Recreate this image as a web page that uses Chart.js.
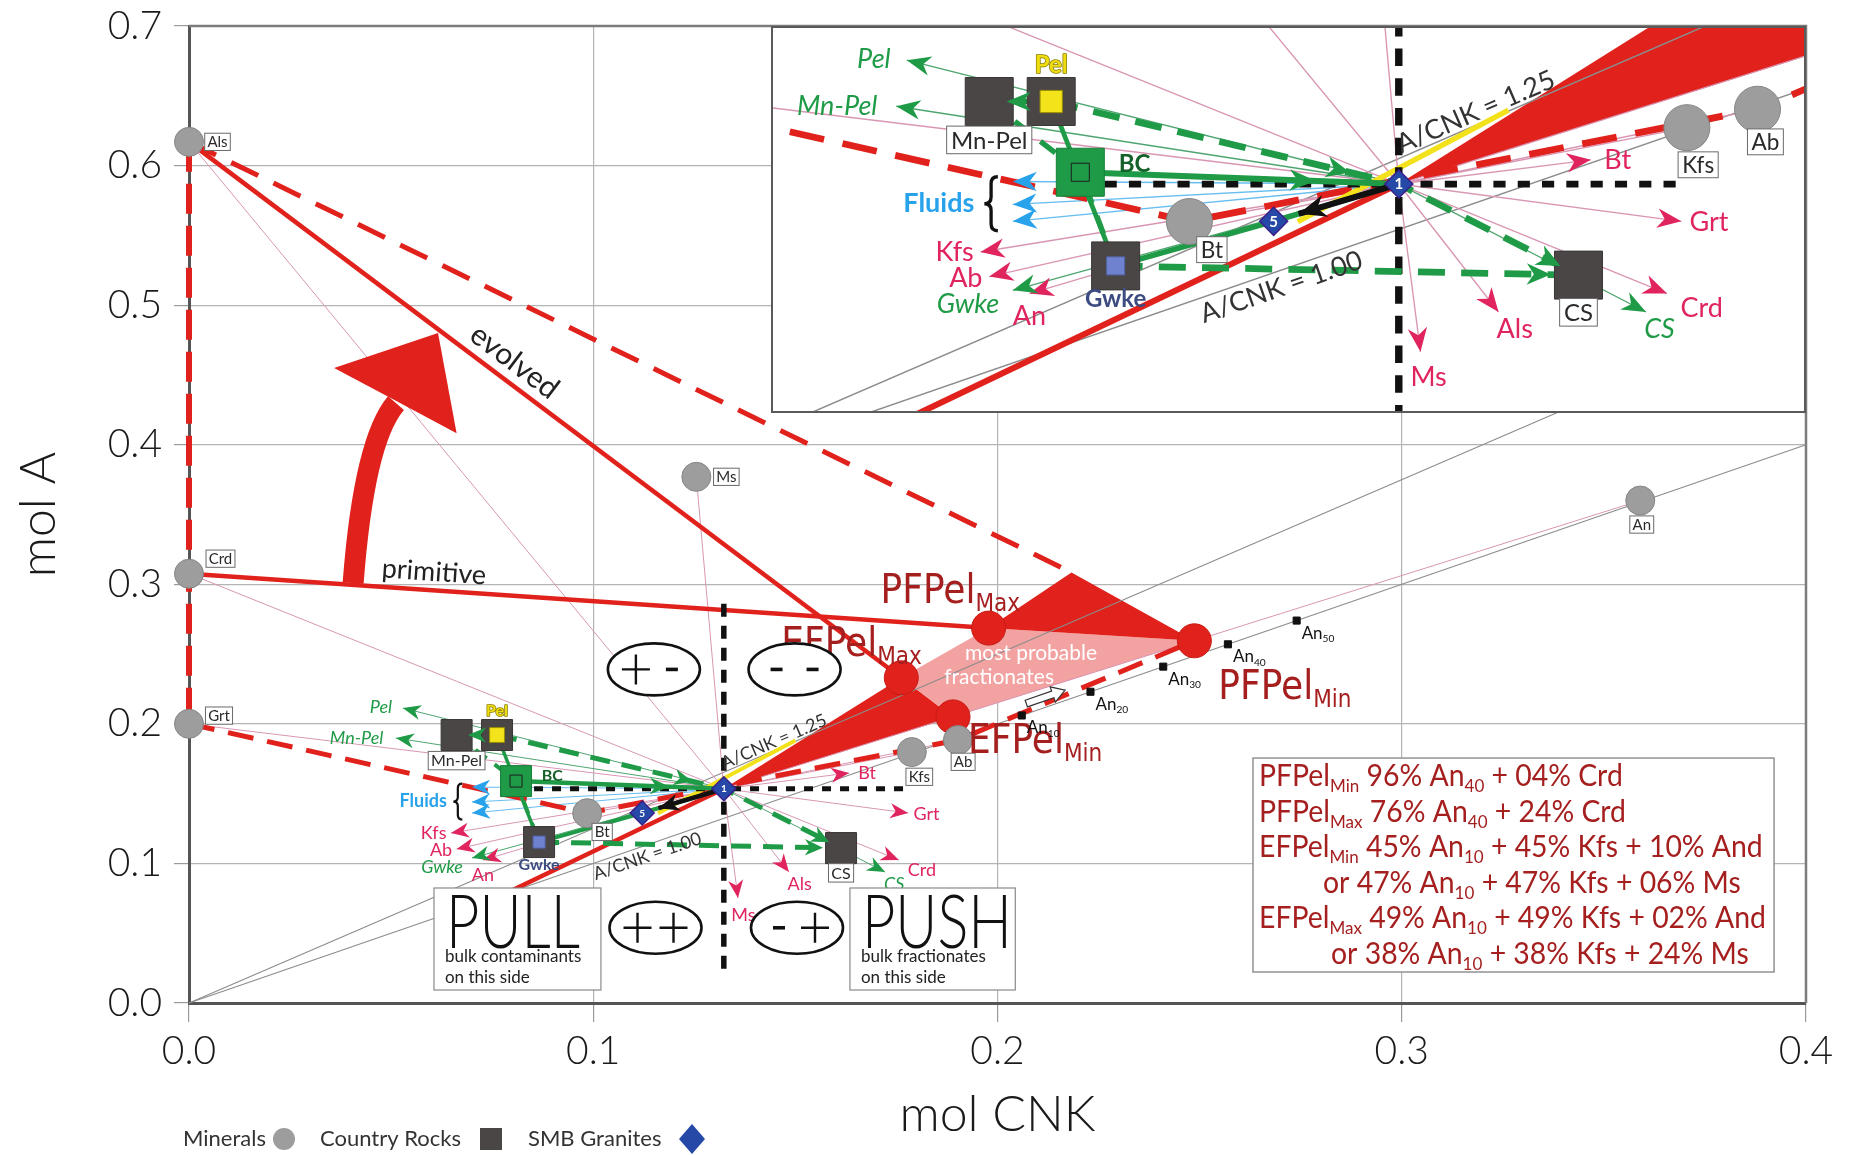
<!DOCTYPE html>
<html><head><meta charset="utf-8">
<script src="https://cdn.jsdelivr.net/npm/chart.js@4.4.1/dist/chart.umd.min.js"></script>
<style>
html,body{margin:0;padding:0;background:#fff;}
#wrap{position:relative;width:1854px;height:1155px;overflow:hidden;background:#fff;}
#mainC{position:absolute;left:0;top:0;}
#insetBox{position:absolute;left:771px;top:26px;width:1035px;height:387px;box-sizing:border-box;border:2px solid #5a5a5a;background:#fff;}
#insetC{display:block;}
</style></head><body>
<div id="wrap"><canvas id="mainC" width="1854" height="1155"></canvas>
<div id="insetBox"><canvas id="insetC" width="1031" height="383"></canvas></div></div>
<script>
// ================= DATA =================
const xTitle = 'mol CNK', yTitle = 'mol A';
const xTicks = [0.0, 0.1, 0.2, 0.3, 0.4];
const yTicks = [0.0, 0.1, 0.2, 0.3, 0.4, 0.5, 0.6, 0.7];

const mineralNames = ['Als', 'Crd', 'Grt', 'Ms', 'An', 'Kfs', 'Ab', 'Bt'];
const mineralX = [0.000, 0.000, 0.000, 0.1255, 0.3590, 0.1788, 0.1902, 0.0985];
const mineralY = [0.617, 0.3076, 0.200, 0.3770, 0.3600, 0.1798, 0.1884, 0.1360];

const rockNames = ['Mn-Pel', 'Pel', 'BC', 'Gwke', 'CS'];
const rockX = [0.0662, 0.0762, 0.0809, 0.0866, 0.1613];
const rockY = [0.1920, 0.1920, 0.1590, 0.1153, 0.1110];

const graniteNames = ['1', '5'];
const graniteX = [0.1323, 0.1121];
const graniteY = [0.1535, 0.1361];

const fracNames = ['EFPel', 'PFPel', 'PFPel', 'EFPel'];
const fracSubs = ['Max', 'Max', 'Min', 'Min'];
const fracX = [0.1762, 0.1978, 0.2487, 0.1890];
const fracY = [0.2330, 0.2686, 0.2595, 0.2050];
const pfApexX = [0.2183];
const pfApexY = [0.3085];

const plagSubs = ['10', '20', '30', '40', '50'];
const plagX = [0.206, 0.223, 0.241, 0.257, 0.274];
const plagY = [0.206, 0.223, 0.241, 0.257, 0.274];

const vecMinNames = ['Kfs', 'Ab', 'An', 'Bt', 'Grt', 'Crd', 'Als', 'Ms'];
const vecMinX = [0.0648, 0.0662, 0.0727, 0.1633, 0.1779, 0.1756, 0.1484, 0.1358];
const vecMinY = [0.1218, 0.1103, 0.1024, 0.1648, 0.1361, 0.1024, 0.0938, 0.0752];

const vecRockNames = ['Pel', 'Mn-Pel', 'Gwke', 'CS'];
const vecRockX = [0.0529, 0.0512, 0.0700, 0.1722];
const vecRockY = [0.2113, 0.1898, 0.1039, 0.0938];

const fluidLabel = 'Fluids';
const fluidX = [0.0700, 0.0700, 0.0700];
const fluidY = [0.1547, 0.1440, 0.1361];

const acnkRatios = [1.00, 1.25];
const acnkLabels = ['A/CNK = 1.00', 'A/CNK = 1.25'];

const quadSigns = ['+-', '--', '++', '-+'];

const boxLines = [
  [['PFPel'], ['Min', 1], [' 96% An'], ['40', 1], [' + 04% Crd']],
  [['PFPel'], ['Max', 1], [' 76% An'], ['40', 1], [' + 24% Crd']],
  [['EFPel'], ['Min', 1], [' 45% An'], ['10', 1], [' + 45% Kfs + 10% And']],
  [['or 47% An'], ['10', 1], [' + 47% Kfs + 06% Ms']],
  [['EFPel'], ['Max', 1], [' 49% An'], ['10', 1], [' + 49% Kfs + 02% And']],
  [['or 38% An'], ['10', 1], [' + 38% Kfs + 24% Ms']]
];

// ================= LAYOUT / STYLE (annotation placement) =================
const FONT = "Lato, 'Open Sans', 'Liberation Sans', sans-serif";
const NARROW = "'Liberation Sans Narrow', 'DejaVu Sans Condensed', 'Liberation Sans', sans-serif";
const RED = '#e1211b', PINK = '#f3a2a2', DRED = '#a51f1f', GREEN = '#1f9b47', MAG = '#e0245e', BLUE = '#29a2ec';
const INSET_RANGE = {xmin: 0.0313, xmax: 0.1977, ymin: 0.0476, ymax: 0.2263};
const layout = {
  quadPos: [[0.1150, 0.239], [0.1498, 0.239], [0.1154, 0.0539], [0.1504, 0.0539]],
  crossV: [0.286, 0.020], crossH: [0.0809, 0.1785],
  redStartMain: [0.0650, 0.0600], redStartInset: [0.0450, 0.0330],
  arrowCurve: {base: [0.0406, 0.3009], mid: [0.0446, 0.3842], top: [0.0512, 0.4298], tip: [0.0616, 0.4800], l: [0.0359, 0.4549], r: [0.0662, 0.4083]},
  primitive: [0.0606, 0.3087], evolved: [0.0805, 0.4594],
  mostProb: [[0.2083, 0.2507], [0.2004, 0.2335]],
  hollow: [0.2118, 0.2192],
  pull: {x0: 0.0606, x1: 0.1019, y0: 0.0824, y1: 0.0093, big: 'PULL', small: ['bulk contaminants', 'on this side'], bw: 134},
  push: {x0: 0.1635, x1: 0.2044, y0: 0.0824, y1: 0.0093, big: 'PUSH', small: ['bulk fractionates', 'on this side'], bw: 150},
  textBox: {x0: 0.2632, x1: 0.3921, y0: 0.1755, y1: 0.0222},
  yellow: [[0.1160, 0.1360], [0.1500, 0.1880]],
  fluidBrace: [0.0665, 0.1443], fluidText: [0.0638, 0.1443],
  acnkAt: [0.1125, 0.1455]
};
const vecLabelPos = {
  Kfs: ['right', -0.25, 0], Ab: ['right', -0.25, 0.05], An: ['center', 0, 0.85], Bt: ['left', 0.5, 0],
  Grt: ['left', 0.3, 0.05], Crd: ['left', 0.5, 0.55], Als: ['center', 0.6, 0.65], Ms: ['center', 0.3, 0.95],
  Pel: ['right', -0.6, -0.05], 'Mn-Pel': ['right', -0.7, 0], Gwke: ['right', -0.5, 0.5], CS: ['center', 0.5, 0.65]
};
const minBoxPos = {Als: [1.9, 0], Crd: [2.1, -1.0], Grt: [2.0, -0.55], Ms: [2.0, 0], An: [0.1, 1.6], Kfs: [0.5, 1.65], Ab: [0.35, 1.45], Bt: [1.0, 1.25]};
const rockLabelPos = {
  'Mn-Pel': {dx: 0, dy: 1.6, box: true}, Pel: {dx: 0, dy: -1.5, color: '#eedc10', stroke: '#8a7d00', weight: 'bold'},
  BC: {dx: 1.6, dy: -0.35, color: '#16602a', weight: 'bold'}, Gwke: {dx: 0, dy: 1.4, color: '#3d4c80', weight: 'bold'},
  CS: {dx: 0, dy: 1.55, box: true}
};
const fracLabelOff = [[-120, -22], [-108, -25], [24, 58], [15, 36]];

// ================= HELPERS =================
const pt = (x, y) => ({x, y});
const M = n => pt(mineralX[mineralNames.indexOf(n)], mineralY[mineralNames.indexOf(n)]);
const R = n => pt(rockX[rockNames.indexOf(n)], rockY[rockNames.indexOf(n)]);
const G = i => pt(graniteX[i], graniteY[i]);
const F = i => pt(fracX[i], fracY[i]);
function P(chart, x, y) { return {x: chart.scales.x.getPixelForValue(x), y: chart.scales.y.getPixelForValue(y)}; }
const at = (a, b, t) => ({x: a.x + (b.x - a.x) * t, y: a.y + (b.y - a.y) * t});
function fnt(size, family, weight, style) { return `${style || 'normal'} ${weight || 'normal'} ${size}px ${family || FONT}`; }
function txt(ctx, s, x, y, o) {
  ctx.save();
  ctx.font = fnt(o.size, o.family, o.weight, o.style);
  ctx.fillStyle = o.color || '#222';
  ctx.textAlign = o.align || 'left';
  ctx.textBaseline = o.baseline || 'middle';
  ctx.translate(x, y);
  if (o.rot) ctx.rotate(o.rot);
  if (o.sx) ctx.scale(o.sx, 1);
  if (o.stroke) { ctx.lineWidth = o.strokeW || 2; ctx.strokeStyle = o.stroke; ctx.lineJoin = 'round'; ctx.strokeText(s, 0, 0); }
  ctx.fillText(s, 0, 0);
  ctx.restore();
}
function richMeasure(ctx, segs, size, family, weight) {
  let w = 0;
  segs.forEach(([t, sub]) => { ctx.font = fnt(sub ? size * 0.6 : size, family, weight); w += ctx.measureText(t).width; });
  return w;
}
function richDraw(ctx, segs, x, y, size, family, weight, color, sx) {
  ctx.save(); ctx.translate(x, y); ctx.scale(sx || 1, 1);
  ctx.fillStyle = color; ctx.textBaseline = 'alphabetic'; ctx.textAlign = 'left';
  let cx = 0;
  segs.forEach(([t, sub]) => {
    const sz = sub ? size * 0.6 : size;
    ctx.font = fnt(sz, family, weight);
    ctx.fillText(t, cx, sub ? size * 0.2 : 0);
    cx += ctx.measureText(t).width;
  });
  ctx.restore();
}
function head(ctx, from, to, L, W, color) {
  const a = Math.atan2(to.y - from.y, to.x - from.x);
  ctx.save(); ctx.translate(to.x, to.y); ctx.rotate(a);
  ctx.beginPath(); ctx.moveTo(0, 0); ctx.lineTo(-L, -W / 2); ctx.lineTo(-L * 0.7, 0); ctx.lineTo(-L, W / 2); ctx.closePath();
  ctx.fillStyle = color; ctx.fill(); ctx.restore();
}
function poly(ctx, pts, color) {
  ctx.beginPath(); pts.forEach((p, i) => i ? ctx.lineTo(p.x, p.y) : ctx.moveTo(p.x, p.y)); ctx.closePath();
  ctx.fillStyle = color; ctx.fill();
}
function boxLabel(ctx, s, cx, cy, size) {
  ctx.save();
  ctx.font = fnt(size, FONT);
  const w = ctx.measureText(s).width, h = size * 1.15;
  ctx.fillStyle = '#fff'; ctx.fillRect(cx - w / 2 - size * 0.18, cy - h / 2, w + size * 0.36, h);
  ctx.strokeStyle = '#6a6a6a'; ctx.lineWidth = 1; ctx.strokeRect(cx - w / 2 - size * 0.18, cy - h / 2, w + size * 0.36, h);
  ctx.fillStyle = '#2a2a2a'; ctx.textAlign = 'center'; ctx.textBaseline = 'middle';
  ctx.fillText(s, cx, cy + size * 0.04);
  ctx.restore();
}
function brace(ctx, x, y, h, w, lw) {
  ctx.save(); ctx.beginPath();
  ctx.moveTo(x + w / 2, y - h / 2);
  ctx.quadraticCurveTo(x, y - h / 2, x, y - h / 2 + w / 2);
  ctx.lineTo(x, y - w / 2);
  ctx.quadraticCurveTo(x, y, x - w / 2, y);
  ctx.quadraticCurveTo(x, y, x, y + w / 2);
  ctx.lineTo(x, y + h / 2 - w / 2);
  ctx.quadraticCurveTo(x, y + h / 2, x + w / 2, y + h / 2);
  ctx.lineWidth = lw; ctx.strokeStyle = '#111'; ctx.stroke(); ctx.restore();
}

// ================= DATASETS =================
function buildDatasets(inset) {
  const k = inset ? 1.5 : 1, kw = inset ? 1.35 : 1;
  const ds = [];
  function line(data, color, w, dash, order) {
    const d = {label: '', data, showLine: true, borderColor: color, backgroundColor: color, borderWidth: w,
      borderDash: dash || [], borderCapStyle: 'butt', borderJoinStyle: 'miter', pointRadius: 0, pointHoverRadius: 0, fill: false, tension: 0, order};
    if (!inset) d.clip = false;
    ds.push(d);
  }
  const g1 = G(0), g5 = G(1);
  acnkRatios.forEach(r => line([pt(0, 0), pt(0.4, 0.4 * r)], '#8c8c8c', 1.1 * kw, [], 100));
  vecMinNames.forEach((n, i) => line([M(n), g1, pt(vecMinX[i], vecMinY[i])], '#d996b3', 1 * kw, [], 99));
  vecRockNames.forEach((n, i) => line([g1, pt(vecRockX[i], vecRockY[i])], '#4fa56f', 1 * kw, [], 98));
  fluidX.forEach((x, i) => line([g1, pt(x, fluidY[i])], '#66bdf0', 1 * kw, [], 98));
  const rs = inset ? layout.redStartInset : layout.redStartMain;
  line([M('Als'), M('Grt')], RED, 6 * kw, [30 * kw, 12 * kw], 60);
  line([M('Als'), pt(pfApexX[0], pfApexY[0])], RED, 5 * kw, [30 * kw, 17 * kw], 60);
  line([M('Grt'), M('Bt'), M('Ab'), F(2)], RED, 5 * kw, [26 * kw, 14 * kw], 60);
  line([M('Als'), F(0)], RED, 4.5 * kw, [], 59);
  line([M('Crd'), F(1)], RED, 4.5 * kw, [], 59);
  line([pt(rs[0], rs[1]), g1], RED, 4.5 * kw, [], 59);
  line(layout.yellow.map(p => pt(p[0], p[1])), '#f3e21b', 4 * kw, [], 58);
  line([pt(graniteX[0], layout.crossV[0]), pt(graniteX[0], layout.crossV[1])], '#111', 5.5 * kw, [13 * kw, 9 * kw], 50);
  line([pt(layout.crossH[0], graniteY[0]), pt(layout.crossH[1], graniteY[0])], '#111', 5 * kw, [9 * kw, 9 * kw], 50);
  line([R('Pel'), R('Gwke')], GREEN, 3.5 * kw, [], 45);
  line([R('Gwke'), g5, g1], GREEN, 4 * kw, [], 45);
  line([R('BC'), g1], GREEN, 4.5 * kw, [], 45);
  line([R('Pel'), R('Mn-Pel')], GREEN, 4 * kw, [], 45);
  line([R('Pel'), g1, R('CS')], GREEN, 5 * kw, [20 * kw, 12 * kw], 44);
  line([R('Gwke'), R('CS')], GREEN, 5 * kw, [20 * kw, 12 * kw], 44);
  line([R('Mn-Pel'), R('BC'), R('Gwke')], GREEN, 4 * kw, [14 * kw, 10 * kw], 44);
  line([g1, at(g1, g5, 0.8)], '#111', 4.5 * kw, [], 40);

  const pd = (label, data, style, r, bg, bc, bw, order) => {
    const d = {label, data, showLine: false, pointStyle: style, pointRadius: r, pointHoverRadius: r, backgroundColor: bg, borderColor: bc, pointBorderWidth: bw, borderWidth: bw, order};
    if (!inset) d.clip = false;
    ds.push(d);
  };
  if (!inset) {
    pd('Fractionates', fracX.map((x, i) => pt(x, fracY[i])), 'circle', 17, RED, '#c81a15', 1, 8);
    pd('Plagioclase', plagX.map((x, i) => pt(x, plagY[i])), 'rect', 5, '#111', '#111', 1, 8);
  }
  pd('Minerals', mineralNames.map((n, i) => pt(mineralX[i], mineralY[i])), 'circle', inset ? 23 : 14.5, '#9d9d9d', '#858585', 1, 6);
  pd('Country Rocks', rockNames.map((n, i) => pt(rockX[i], rockY[i])), 'rect', (inset ? 48 : 31) / Math.SQRT2,
    rockNames.map(n => n === 'BC' ? '#1f9a46' : '#4b4646'), rockNames.map(n => n === 'BC' ? '#17803a' : '#3a3636'), 1, 5);
  pd('Rock details', [R('Pel'), R('BC'), R('Gwke')], 'rect', [10.5 * k, 8.5 * k, 8.5 * k],
    ['#f2e31a', 'rgba(0,0,0,0)', '#6e82cf'], ['#9a8f00', '#1d1d1d', '#5364aa'], 1, 4);
  pd('SMB Granites', graniteNames.map((n, i) => pt(graniteX[i], graniteY[i])), 'rectRot', inset ? 14 : 12, '#2649a8', '#3a1f8a', 1.5, 3);
  return ds;
}

// ================= PLUGIN (arrows, labels, areas) =================
const sketchPlugin = {
  id: 'sketch',
  beforeDatasetsDraw(chart) {
    const inset = chart.options.plugins.sketch.inset;
    const ctx = chart.ctx, ca = chart.chartArea;
    const g1 = P(chart, graniteX[0], graniteY[0]);
    const eMax = P(chart, fracX[0], fracY[0]), pMax = P(chart, fracX[1], fracY[1]);
    const pMin = P(chart, fracX[2], fracY[2]), eMin = P(chart, fracX[3], fracY[3]);
    const apex = P(chart, pfApexX[0], pfApexY[0]);
    ctx.save();
    if (!inset) {
      ctx.strokeStyle = '#7c7c7c'; ctx.lineWidth = 2.5;
      ctx.beginPath(); ctx.moveTo(ca.left, ca.top); ctx.lineTo(ca.right, ca.top); ctx.lineTo(ca.right, ca.bottom); ctx.stroke();
    }
    ctx.beginPath(); ctx.rect(ca.left, ca.top, ca.right - ca.left, ca.bottom - ca.top); ctx.clip();
    if (inset) {
      poly(ctx, [g1, at(g1, eMax, 12), at(g1, eMin, 12)], RED);
    } else {
      poly(ctx, [g1, eMax, eMin], RED);
      poly(ctx, [eMax, pMax, pMin, eMin], PINK);
      poly(ctx, [pMax, apex, pMin], RED);
    }
    ctx.restore();
  },
  afterDatasetsDraw(chart) {
    const inset = chart.options.plugins.sketch.inset;
    const k = inset ? 1.5 : 1;
    const ctx = chart.ctx;
    const g1 = P(chart, graniteX[0], graniteY[0]), g5 = P(chart, graniteX[1], graniteY[1]);
    const Rp = n => P(chart, rockX[rockNames.indexOf(n)], rockY[rockNames.indexOf(n)]);
    const L = (inset ? 24 : 18), W = (inset ? 19.5 : 15);
    vecMinNames.forEach((n, i) => head(ctx, g1, P(chart, vecMinX[i], vecMinY[i]), L, W, MAG));
    vecRockNames.forEach((n, i) => head(ctx, g1, P(chart, vecRockX[i], vecRockY[i]), L, W, GREEN));
    fluidX.forEach((x, i) => head(ctx, g1, P(chart, x, fluidY[i]), L, W, BLUE));
    head(ctx, Rp('BC'), at(Rp('BC'), g1, 0.74), L * 1.1, W * 1.1, GREEN);
    head(ctx, Rp('Pel'), at(Rp('Pel'), Rp('Mn-Pel'), 0.72), L, W, GREEN);
    head(ctx, Rp('Pel'), at(Rp('Pel'), g1, 0.86), L, W * 1.1, GREEN);
    head(ctx, g1, at(g1, Rp('CS'), 0.9), L, W * 1.1, GREEN);
    head(ctx, Rp('Gwke'), at(Rp('Gwke'), Rp('CS'), 0.94), L, W * 1.1, GREEN);
    head(ctx, g1, at(g1, g5, 0.8), L * 1.15, W * 1.15, '#111');
    graniteNames.forEach((n, i) => { const p = P(chart, graniteX[i], graniteY[i]); txt(ctx, n, p.x, p.y + 0.5, {size: 10 * k, color: '#fff', align: 'center', weight: 'bold'}); });
    const lsz = 18 * k;
    vecMinNames.forEach((n, i) => {
      const t = P(chart, vecMinX[i], vecMinY[i]); const [al, dx, dy] = vecLabelPos[n];
      txt(ctx, n, t.x + dx * lsz, t.y + dy * lsz, {size: lsz, color: MAG, align: al});
    });
    vecRockNames.forEach((n, i) => {
      const t = P(chart, vecRockX[i], vecRockY[i]); const [al, dx, dy] = vecLabelPos[n];
      txt(ctx, n, t.x + dx * lsz, t.y + dy * lsz, {size: lsz, color: GREEN, align: al, style: 'italic'});
    });
    const fb = P(chart, layout.fluidBrace[0], layout.fluidBrace[1]);
    brace(ctx, fb.x, fb.y, 36 * k, 9 * k, 2.2 * k);
    const ft = P(chart, layout.fluidText[0], layout.fluidText[1]);
    txt(ctx, fluidLabel, ft.x, ft.y, {size: lsz, color: BLUE, align: 'right', weight: 'bold'});
    const bsz = 15 * k;
    mineralNames.forEach((n, i) => {
      const p = P(chart, mineralX[i], mineralY[i]); const o = minBoxPos[n];
      boxLabel(ctx, n, p.x + o[0] * bsz, p.y + o[1] * bsz, bsz);
    });
    const rsz = 16 * k;
    rockNames.forEach((n, i) => {
      const p = P(chart, rockX[i], rockY[i]); const o = rockLabelPos[n];
      const x = p.x + o.dx * rsz, y = p.y + o.dy * rsz;
      if (o.box) boxLabel(ctx, n, x, y, rsz);
      else txt(ctx, n, x, y, {size: rsz, color: o.color, weight: o.weight, align: o.dx > 0 ? 'left' : 'center', stroke: o.stroke, strokeW: 1.5});
    });
    const asz = 18 * k;
    acnkRatios.forEach((r, i) => {
      const xv = layout.acnkAt[i];
      const a = P(chart, 0, 0), b = P(chart, xv, xv * r);
      const ang = Math.atan2(b.y - a.y, b.x - a.x);
      const off = (i === 0 ? 0.6 : -0.45) * asz;
      txt(ctx, acnkLabels[i], b.x - Math.sin(ang) * off, b.y + Math.cos(ang) * off, {size: asz, color: '#333', align: 'center', rot: ang});
    });
    if (inset) return;

    fracNames.forEach((n, i) => {
      const p = P(chart, fracX[i], fracY[i]);
      richDraw(ctx, [[n], [fracSubs[i], 1]], p.x + fracLabelOff[i][0], p.y + fracLabelOff[i][1], 40, NARROW, 'normal', DRED, 1);
    });
    layout.mostProb.forEach((q, i) => { const p = P(chart, q[0], q[1]); txt(ctx, i ? 'fractionates' : 'most probable', p.x, p.y, {size: 21, color: '#fff', align: 'center'}); });
    plagSubs.forEach((s, i) => {
      const p = P(chart, plagX[i], plagY[i]);
      richDraw(ctx, [['An'], [s, 1]], p.x + 5, p.y + 18, 17, FONT, 'normal', '#111', 1);
    });
    {
      const c = P(chart, layout.hollow[0], layout.hollow[1]);
      const a = P(chart, 0, 0), b = P(chart, 0.4, 0.4); const ang = Math.atan2(b.y - a.y, b.x - a.x);
      ctx.save(); ctx.translate(c.x, c.y); ctx.rotate(ang);
      ctx.beginPath(); ctx.moveTo(-20, -3.5); ctx.lineTo(8, -3.5); ctx.lineTo(8, -8); ctx.lineTo(21, 0); ctx.lineTo(8, 8); ctx.lineTo(8, 3.5); ctx.lineTo(-20, 3.5); ctx.closePath();
      ctx.fillStyle = '#fff'; ctx.fill(); ctx.strokeStyle = '#333'; ctx.lineWidth = 1.2; ctx.stroke(); ctx.restore();
    }
    {
      const c1 = P(chart, mineralX[1], mineralY[1]), c2 = P(chart, fracX[1], fracY[1]);
      const p = P(chart, layout.primitive[0], layout.primitive[1]);
      txt(ctx, 'primitive', p.x, p.y, {size: 27, color: '#222', align: 'center', rot: Math.atan2(c2.y - c1.y, c2.x - c1.x)});
      const a1 = P(chart, mineralX[0], mineralY[0]), a2 = P(chart, fracX[0], fracY[0]);
      const e = P(chart, layout.evolved[0], layout.evolved[1]);
      txt(ctx, 'evolved', e.x, e.y, {size: 30, color: '#222', align: 'center', rot: Math.atan2(a2.y - a1.y, a2.x - a1.x)});
    }
    {
      const A = layout.arrowCurve; const q = v => P(chart, v[0], v[1]);
      const b = q(A.base), m = q(A.mid), t = q(A.top);
      const cp = {x: 2 * m.x - (b.x + t.x) / 2, y: 2 * m.y - (b.y + t.y) / 2};
      ctx.save(); ctx.beginPath(); ctx.moveTo(b.x, b.y); ctx.quadraticCurveTo(cp.x, cp.y, t.x, t.y);
      ctx.strokeStyle = RED; ctx.lineWidth = 21; ctx.lineCap = 'butt'; ctx.stroke(); ctx.restore();
      poly(ctx, [q(A.tip), q(A.l), at(q(A.l), q(A.r), 0.5), q(A.r)], RED);
    }
    layout.quadPos.forEach((qp, i) => {
      const c = P(chart, qp[0], qp[1]);
      ctx.save(); ctx.beginPath(); ctx.ellipse(c.x, c.y, 46, 26, 0, 0, Math.PI * 2);
      ctx.fillStyle = '#fff'; ctx.fill(); ctx.lineWidth = 2.6; ctx.strokeStyle = '#111'; ctx.stroke();
      quadSigns[i].split('').forEach((s, j) => {
        const sx = c.x + (j ? 18 : -18);
        ctx.beginPath();
        if (s === '+') { ctx.moveTo(sx - 14, c.y); ctx.lineTo(sx + 14, c.y); ctx.moveTo(sx, c.y - 15); ctx.lineTo(sx, c.y + 15); ctx.lineWidth = 2.4; }
        else { ctx.moveTo(sx - 6, c.y); ctx.lineTo(sx + 6, c.y); ctx.lineWidth = 3.6; }
        ctx.stroke();
      });
      ctx.restore();
    });
    [layout.pull, layout.push].forEach(bx => {
      const a = P(chart, bx.x0, bx.y0), b = P(chart, bx.x1, bx.y1);
      ctx.save(); ctx.fillStyle = '#fff'; ctx.fillRect(a.x, a.y, b.x - a.x, b.y - a.y);
      ctx.strokeStyle = '#8a8a8a'; ctx.lineWidth = 1.2; ctx.strokeRect(a.x, a.y, b.x - a.x, b.y - a.y);
      ctx.font = fnt(74, FONT, '300'); const w = ctx.measureText(bx.big).width;
      ctx.restore();
      txt(ctx, bx.big, a.x + 12, a.y + 60, {size: 74, family: FONT, weight: '300', color: '#111', baseline: 'alphabetic', sx: bx.bw / w});
      bx.small.forEach((s, j) => txt(ctx, s, a.x + 11, a.y + 74 + j * 21, {size: 17, color: '#222', baseline: 'alphabetic'}));
    });
    {
      const tb = layout.textBox; const a = P(chart, tb.x0, tb.y0), b = P(chart, tb.x1, tb.y1);
      ctx.save(); ctx.fillStyle = '#fff'; ctx.fillRect(a.x, a.y, b.x - a.x, b.y - a.y);
      ctx.strokeStyle = '#8a8a8a'; ctx.lineWidth = 1.4; ctx.strokeRect(a.x, a.y, b.x - a.x, b.y - a.y); ctx.restore();
      const size = 30;
      const maxW = Math.max(...boxLines.map(l => richMeasure(ctx, l, size, FONT, 'normal')));
      const sx = 507 / maxW;
      boxLines.forEach((l, i) => {
        const indent = (i === 3) ? 64 : (i === 5 ? 72 : 0);
        richDraw(ctx, l, a.x + 6 + indent, a.y + 28 + i * 35.6, size, FONT, 'normal', DRED, sx);
      });
    }
  },
  afterDraw(chart) {
    if (chart.options.plugins.sketch.inset) return;
    const ctx = chart.ctx, y = 1139;
    const items = chart.data.datasets.filter(d => ['Minerals', 'Country Rocks', 'SMB Granites'].includes(d.label));
    const xs = [[183, 284], [320, 491], [528, 692]];
    items.forEach((d, i) => {
      txt(ctx, d.label, xs[i][0], y, {size: 22, color: '#333'});
      const cx = xs[i][1];
      ctx.save(); ctx.beginPath();
      if (d.pointStyle === 'circle') ctx.arc(cx, y, 11, 0, Math.PI * 2);
      else if (d.pointStyle === 'rect') ctx.rect(cx - 11, y - 11, 22, 22);
      else { ctx.moveTo(cx, y - 15); ctx.lineTo(cx + 13, y); ctx.lineTo(cx, y + 15); ctx.lineTo(cx - 13, y); ctx.closePath(); }
      ctx.fillStyle = d.pointStyle === 'circle' ? '#9d9d9d' : (d.pointStyle === 'rect' ? '#4b4646' : '#2649a8');
      ctx.fill(); ctx.restore();
    });
  }
};

// ================= CHARTS =================
function makeConfig(inset) {
  const tickFont = {family: FONT, size: 39, weight: '300'};
  const scales = inset ? {
    x: {type: 'linear', min: INSET_RANGE.xmin, max: INSET_RANGE.xmax, display: false},
    y: {type: 'linear', min: INSET_RANGE.ymin, max: INSET_RANGE.ymax, display: false}
  } : {
    x: {
      type: 'linear', min: xTicks[0], max: xTicks[xTicks.length - 1],
      afterBuildTicks: s => { s.ticks = xTicks.map(v => ({value: v})); },
      afterFit: s => { s.height = 152; s.paddingLeft = 0; s.paddingRight = 0; },
      ticks: {callback: v => Number(v).toFixed(1), font: tickFont, color: '#1a1a1a', padding: 6, maxRotation: 0, autoSkip: false},
      grid: {color: '#b4b4b4', lineWidth: 1.2, drawTicks: true, tickLength: 19, tickColor: '#9a9a9a'},
      border: {display: true, color: '#555', width: 3},
      title: {display: true, text: xTitle, font: {family: FONT, size: 50, weight: '300'}, color: '#1a1a1a', padding: {top: 4, bottom: 10}}
    },
    y: {
      type: 'linear', min: yTicks[0], max: yTicks[yTicks.length - 1],
      afterBuildTicks: s => { s.ticks = yTicks.map(v => ({value: v})); },
      afterFit: s => { s.width = 189; s.paddingTop = 0; s.paddingBottom = 0; },
      ticks: {callback: v => Number(v).toFixed(1), font: tickFont, color: '#1a1a1a', padding: 12, autoSkip: false},
      grid: {color: '#b4b4b4', lineWidth: 1.2, drawTicks: true, tickLength: 15, tickColor: '#9a9a9a'},
      border: {display: true, color: '#555', width: 3},
      title: {display: true, text: yTitle, font: {family: FONT, size: 50, weight: '300'}, color: '#1a1a1a', padding: {top: 9, bottom: 0}}
    }
  };
  return {
    type: 'scatter',
    data: {datasets: buildDatasets(inset)},
    options: {
      responsive: false, animation: false, events: [],
      layout: {autoPadding: false, padding: inset ? 0 : {top: 26, right: 48, left: 0, bottom: 0}},
      plugins: {legend: {display: false}, tooltip: {enabled: false}, sketch: {inset}},
      scales
    },
    plugins: [sketchPlugin]
  };
}
new Chart(document.getElementById('mainC'), makeConfig(false));
new Chart(document.getElementById('insetC'), makeConfig(true));
</script></body></html>
